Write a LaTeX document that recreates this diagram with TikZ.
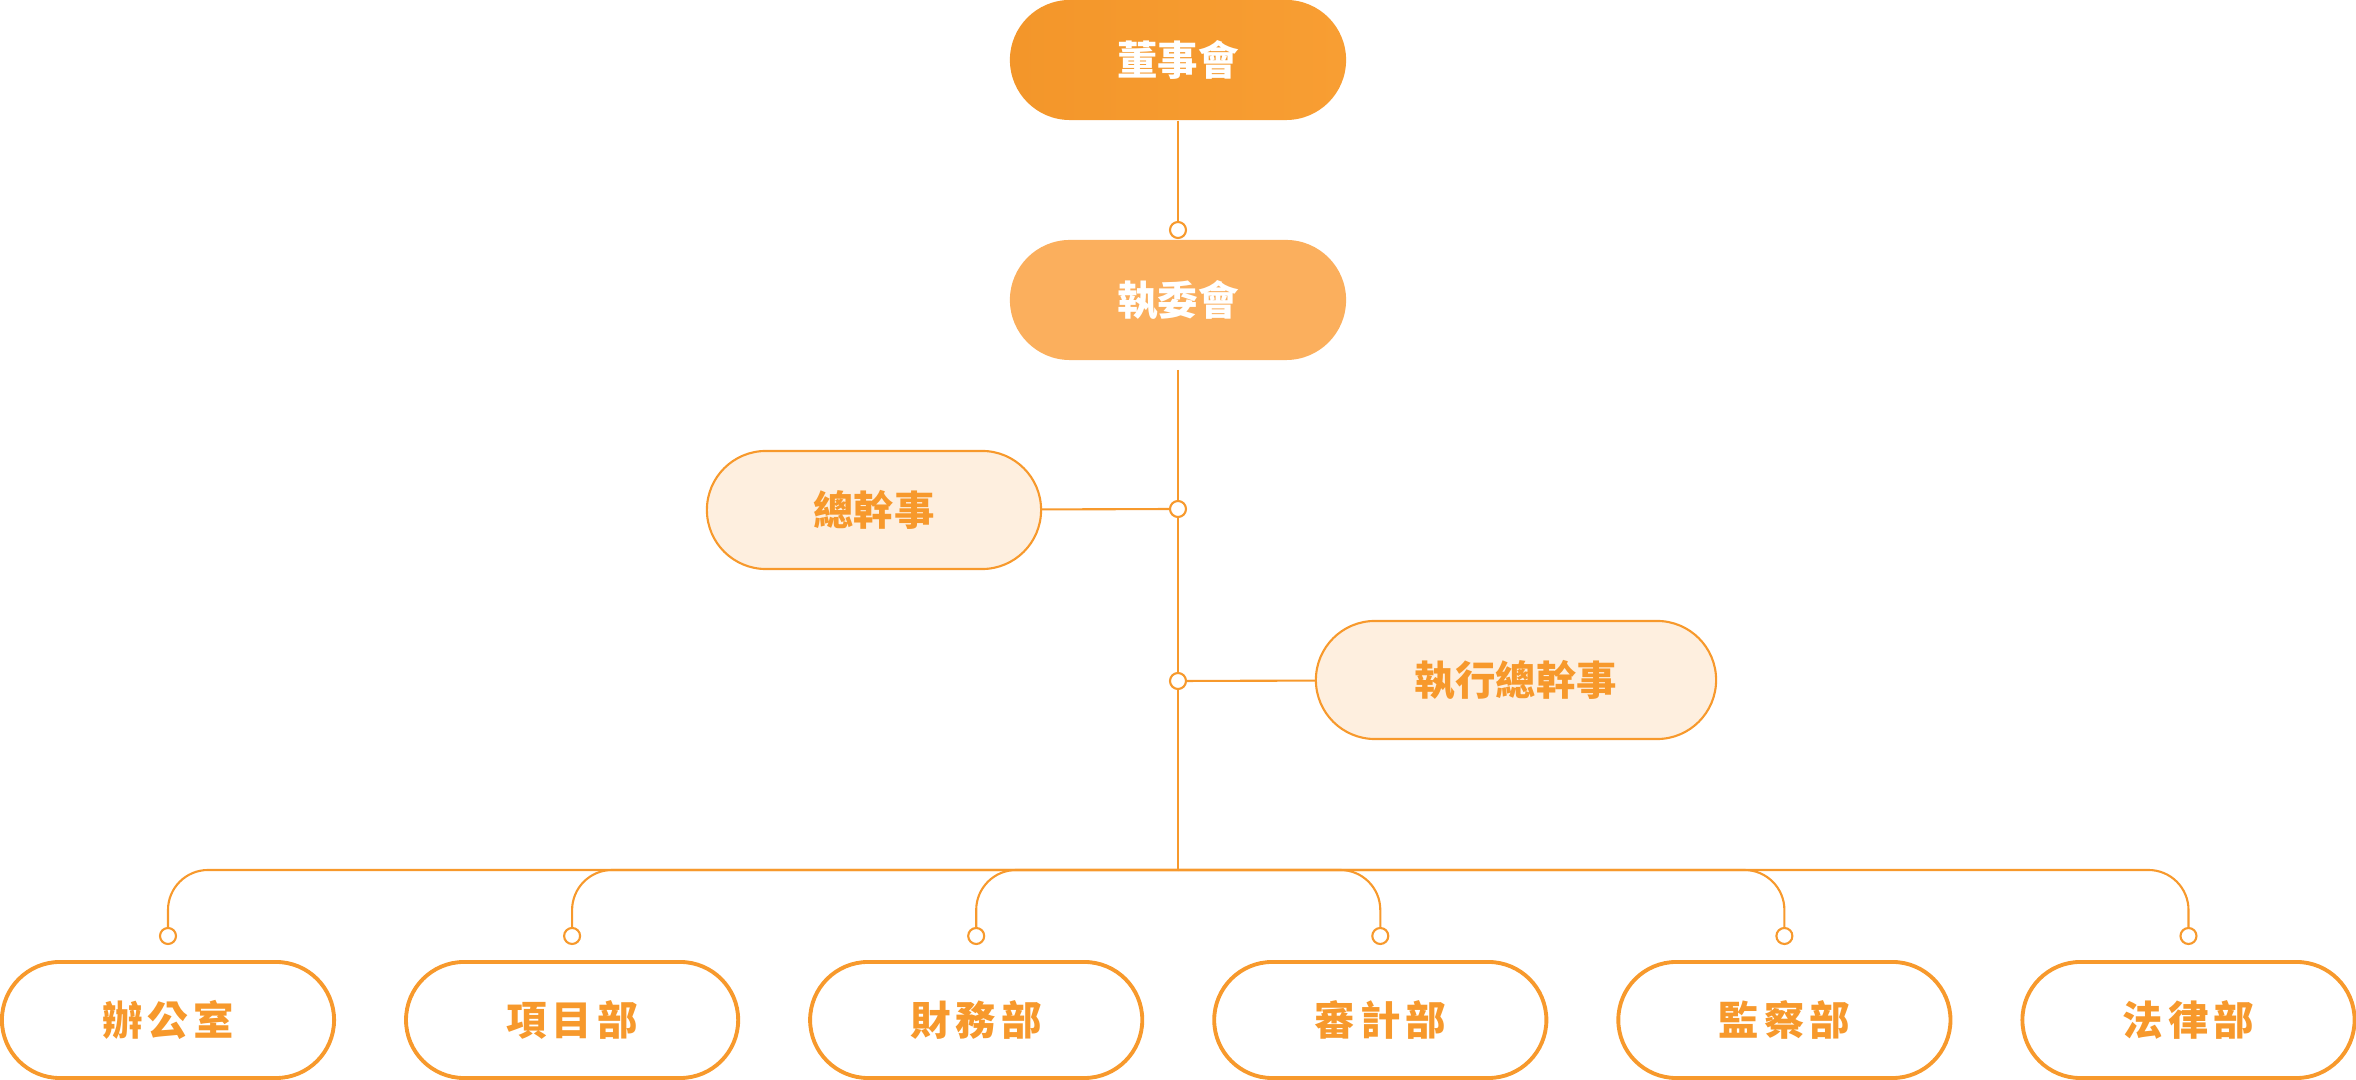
\documentclass[tikz,border=0pt]{standalone}
\usepackage{fontspec}
\usetikzlibrary{positioning}
\newfontfamily\cjk{Noto Sans CJK TC}
\newfontfamily\cjkwide{Noto Sans CJK TC}[LetterSpace=12]
\definecolor{orange}{HTML}{F7992C}
\definecolor{boardl}{HTML}{F3962A}
\definecolor{boardr}{HTML}{F89E33}
\definecolor{execfill}{HTML}{FBAF5D}
\definecolor{cream}{HTML}{FEEFDF}
\begin{document}
\begin{tikzpicture}[x=0.01cm,y=-0.01cm,node distance=0.68cm,
    top/.style={rounded corners=0.6cm,minimum width=3.36cm,minimum height=1.2cm,text=white,font=\cjk\fontsize{11.5}{13}\selectfont\bfseries},
    officer/.style={rounded corners=0.59cm,draw=orange,line width=0.6pt,fill=cream,minimum height=1.18cm,text=orange,font=\cjk\fontsize{11.5}{13}\selectfont\bfseries},
    dept/.style={rounded corners=0.58cm,draw=orange,line width=1.1pt,fill=white,minimum width=3.32cm,minimum height=1.16cm,text=orange,font=\cjkwide\fontsize{11.5}{13}\selectfont\bfseries},
    dot/.style={circle,draw=orange,line width=0.6pt,fill=white,inner sep=0pt,minimum size=0.16cm},
    link/.style={draw=orange,line width=0.6pt}]
    \useasboundingbox (0,0) rectangle (2356,1080);
    \node[top,left color=boardl,right color=boardr] (board) at (1178,60) {董事會};
    \node[top,fill=execfill] (exec) at (1178,300) {執委會};
    \node[officer,minimum width=3.34cm] (sec) at (874,510) {總幹事};
    \node[officer,minimum width=4cm] (esec) at (1516,680) {執行總幹事};
    \node[dept] (d1) at (168,1020) {辦公室};
    \node[dept,right=of d1] (d2) {項目部};
    \node[dept,right=of d2] (d3) {財務部};
    \node[dept,right=of d3] (d4) {審計部};
    \node[dept,right=of d4] (d5) {監察部};
    \node[dept,right=of d5] (d6) {法律部};
    \node[dot] (c1) at (1178,230) {};
    \node[dot] (c2) at (1178,509) {};
    \node[dot] (c3) at (1178,681) {};
    \coordinate (trunk) at (1178,370);
    \coordinate (bus) at (1178,870);
    \foreach \i in {1,...,6} \node[dot] (p\i) at (d\i.north |- 0,936) {};
    \draw[link] (board)--(c1); \draw[link] (trunk)--(c2); \draw[link] (c2)--(c3); \draw[link] (c3)--(bus);
    \draw[link] (sec)--(c2); \draw[link] (c3)--(esec);
    \foreach \i in {1,...,6} \draw[link,rounded corners=0.4cm] (bus) -| (p\i);
  \end{tikzpicture}
\end{document}
